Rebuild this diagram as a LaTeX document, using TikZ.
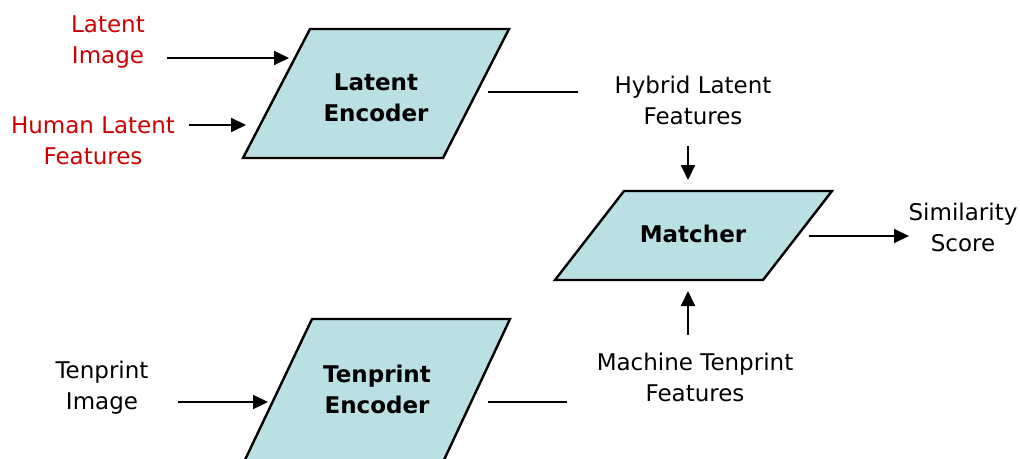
\documentclass[tikz,border=0pt]{standalone}
\usepackage{fontspec}
\setmainfont{DejaVu Sans}
\usetikzlibrary{arrows.meta}
\definecolor{boxfill}{RGB}{186,224,227}
\definecolor{labred}{RGB}{204,0,0}
\begin{document}
\begin{tikzpicture}[x=1pt,y=-1pt,
 lbl/.style={align=center,font=\fontsize{23}{31}\selectfont,inner sep=0pt},
 ttl/.style={align=center,font=\fontsize{23}{31}\selectfont\bfseries,inner sep=0pt},
 shp/.style={draw=black,fill=boxfill,line width=2.4pt,line join=miter},
 arr/.style={line width=2pt,-{Triangle[length=15pt,width=14pt]}},
 ln/.style={line width=2pt}]
\useasboundingbox (0,0) rectangle (1020,458);
\clip (0,0) rectangle (1020,458);
% shapes
\draw[shp] (310,29) -- (509,29) -- (443,158) -- (243,158) -- cycle;
\draw[shp] (624,191) -- (832,191) -- (763,280) -- (555,280) -- cycle;
\draw[shp] (312,319) -- (510,319) -- (443,462) -- (244,462) -- cycle;
% titles
\node[ttl] (le) at (376,98) {Latent\\Encoder};
\node[ttl] (m) at (693,234) {Matcher};
\node[ttl] (te) at (377,389) {Tenprint\\Encoder};
% labels
\node[lbl,text=labred] (li) at (108,42) {Latent\\Image};
\node[lbl,text=labred] (hl) at (93,141) {Human Latent\\Features};
\node[lbl] (hy) at (693,100) {Hybrid Latent\\Features};
\node[lbl] (ss) at (963,227) {Similarity\\Score};
\node[lbl] (ti) at (102,388) {Tenprint\\Image};
\node[lbl] (mt) at (695,377) {Machine Tenprint\\Features};
% anchor coordinates
\coordinate (liS) at (167,58);  \coordinate (liE) at (289,58);
\coordinate (hlS) at (189,125); \coordinate (hlE) at (246,125);
\coordinate (leS) at (488,92);  \coordinate (leE) at (578,92);
\coordinate (hyS) at (688,146); \coordinate (hyE) at (688,180);
\coordinate (mS) at (809,236);  \coordinate (mE) at (909,236);
\coordinate (mtS) at (688,335); \coordinate (mtE) at (688,291);
\coordinate (tiS) at (178,402); \coordinate (tiE) at (268,402);
\coordinate (teS) at (488,402); \coordinate (teE) at (567,402);
% connectors
\draw[arr] (liS) -- (liE);
\draw[arr] (hlS) -- (hlE);
\draw[ln] (leS) -- (leE);
\draw[arr] (hyS) -- (hyE);
\draw[arr] (mS) -- (mE);
\draw[arr] (mtS) -- (mtE);
\draw[arr] (tiS) -- (tiE);
\draw[ln] (teS) -- (teE);
\end{tikzpicture}
\end{document}
